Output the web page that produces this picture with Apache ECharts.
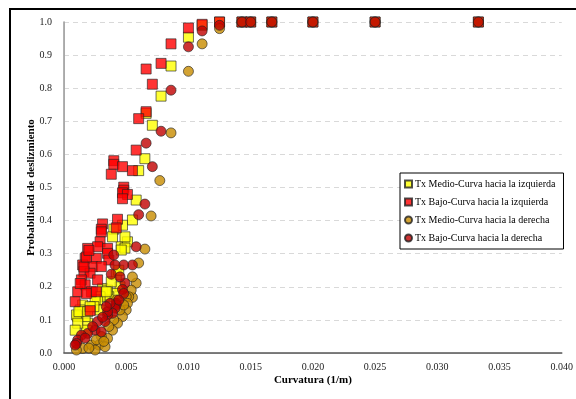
<!DOCTYPE html>
<html>
<head>
<meta charset="utf-8">
<script src="https://cdn.jsdelivr.net/npm/echarts@6/dist/echarts.min.js"></script>
<style>
  html, body { margin: 0; padding: 0; background: #fff; }
  #chart { width: 576px; height: 399px; }
</style>
</head>
<body>
<div id="chart"></div>
<script>
// Curvatura (1/m), Probabilidad de deslizamiento
const medioIzquierda = [
  [0.0100, 0.954], [0.0111, 0.990], [0.0125, 1.0], [0.0143, 1.0], [0.0150, 1.0], [0.0167, 1.0],
  [0.0200, 1.0], [0.0250, 1.0], [0.0333, 1.0], [0.0086, 0.867], [0.0078, 0.776], [0.0066, 0.724],
  [0.0071, 0.688], [0.0065, 0.587], [0.0060, 0.551], [0.0058, 0.462], [0.0055, 0.402], [0.0047, 0.386],
  [0.0040, 0.374], [0.0046, 0.321], [0.0051, 0.336], [0.0049, 0.351], [0.0039, 0.351], [0.0049, 0.317],
  [0.0046, 0.311], [0.0045, 0.200], [0.0042, 0.236], [0.0041, 0.180], [0.0036, 0.170], [0.0033, 0.175],
  [0.0031, 0.195], [0.0035, 0.190], [0.0038, 0.215], [0.0029, 0.170], [0.0027, 0.160], [0.0025, 0.160],
  [0.0029, 0.130], [0.0024, 0.140], [0.0019, 0.090], [0.0018, 0.069], [0.0017, 0.110], [0.0015, 0.145],
  [0.0013, 0.130], [0.0011, 0.110], [0.0010, 0.115], [0.0011, 0.090], [0.0009, 0.069], [0.0012, 0.125],
  [0.0019, 0.125], [0.0021, 0.140], [0.0034, 0.185], [0.0044, 0.250]
];
const bajoIzquierda = [
  [0.0100, 0.982], [0.0111, 0.993], [0.0125, 1.0], [0.0143, 1.0], [0.0150, 1.0], [0.0167, 1.0],
  [0.0200, 1.0], [0.0250, 1.0], [0.0333, 1.0], [0.0086, 0.934], [0.0078, 0.875], [0.0066, 0.858],
  [0.0071, 0.812], [0.0066, 0.729], [0.0060, 0.708], [0.0058, 0.613], [0.0040, 0.581], [0.0040, 0.570],
  [0.0038, 0.540], [0.0047, 0.563], [0.0055, 0.551], [0.0048, 0.501], [0.0048, 0.492], [0.0047, 0.484],
  [0.0051, 0.479], [0.0047, 0.466], [0.0043, 0.404], [0.0042, 0.378], [0.0031, 0.390], [0.0030, 0.374],
  [0.0030, 0.366], [0.0029, 0.336], [0.0035, 0.316], [0.0027, 0.321], [0.0019, 0.316], [0.0035, 0.301],
  [0.0017, 0.286], [0.0026, 0.286], [0.0036, 0.281], [0.0015, 0.266], [0.0023, 0.261], [0.0030, 0.261],
  [0.0016, 0.246], [0.0021, 0.241], [0.0027, 0.221], [0.0014, 0.221], [0.0017, 0.206], [0.0011, 0.185],
  [0.0022, 0.185], [0.0009, 0.155], [0.0021, 0.128], [0.0018, 0.180], [0.0026, 0.185], [0.0013, 0.210],
  [0.0016, 0.260], [0.0018, 0.290], [0.0020, 0.310]
];
const medioDerecha = [
  [0.0100, 0.851], [0.0111, 0.934], [0.0125, 0.980], [0.0143, 1.0], [0.0150, 1.0], [0.0167, 1.0],
  [0.0200, 1.0], [0.0250, 1.0], [0.0333, 1.0], [0.0086, 0.665], [0.0077, 0.521], [0.0070, 0.414],
  [0.0065, 0.314], [0.0060, 0.272], [0.0058, 0.211], [0.0055, 0.168], [0.0054, 0.190], [0.0052, 0.170],
  [0.0050, 0.170], [0.0051, 0.150], [0.0050, 0.130], [0.0047, 0.110], [0.0043, 0.090], [0.0039, 0.069],
  [0.0035, 0.044], [0.0028, 0.024], [0.0022, 0.024], [0.0015, 0.014], [0.0010, 0.009], [0.0025, 0.009],
  [0.0033, 0.019], [0.0045, 0.130], [0.0040, 0.100], [0.0036, 0.080], [0.0030, 0.050], [0.0026, 0.040],
  [0.0020, 0.015], [0.0042, 0.160], [0.0055, 0.230], [0.0048, 0.145], [0.0032, 0.035]
];
const bajoDerecha = [
  [0.0100, 0.925], [0.0111, 0.973], [0.0125, 0.990], [0.0143, 1.0], [0.0150, 1.0], [0.0167, 1.0],
  [0.0200, 1.0], [0.0250, 1.0], [0.0333, 1.0], [0.0086, 0.794], [0.0078, 0.670], [0.0066, 0.634],
  [0.0071, 0.563], [0.0065, 0.450], [0.0060, 0.418], [0.0058, 0.321], [0.0055, 0.266], [0.0048, 0.266],
  [0.0041, 0.266], [0.0040, 0.296], [0.0038, 0.238], [0.0049, 0.211], [0.0047, 0.192], [0.0048, 0.180],
  [0.0042, 0.150], [0.0042, 0.145], [0.0041, 0.135], [0.0039, 0.120], [0.0035, 0.115], [0.0033, 0.095],
  [0.0027, 0.095], [0.0025, 0.069], [0.0030, 0.064], [0.0019, 0.059], [0.0014, 0.054], [0.0011, 0.039],
  [0.0010, 0.029], [0.0009, 0.024], [0.0035, 0.125], [0.0031, 0.108], [0.0044, 0.160], [0.0037, 0.150],
  [0.0023, 0.080], [0.0017, 0.045], [0.0045, 0.230], [0.0034, 0.140]
];

const xTicks = { min: 0, max: 0.04, interval: 0.005 };
const yTicks = { min: 0, max: 1, interval: 0.1 };

const font = '"Liberation Serif", "Times New Roman", serif';
const chart = echarts.init(document.getElementById('chart'));

const makeSeries = (name, data, symbol, color) => ({
  name,
  type: 'scatter',
  data,
  symbol,
  symbolSize: 10,
  itemStyle: { color, borderColor: '#222', borderWidth: 0.8 },
  emphasis: { disabled: true }
});

chart.setOption({
  animation: false,
  backgroundColor: '#fff',
  textStyle: { fontFamily: font },
  graphic: [{
    type: 'rect',
    shape: { x: 10, y: 9, width: 620, height: 430 },
    style: { fill: 'none', stroke: '#000', lineWidth: 2 },
    silent: true
  }],
  grid: { left: 64, right: 13, top: 22, bottom: 46 },
  legend: {
    orient: 'vertical',
    left: 400,
    top: 173,
    itemWidth: 7,
    itemHeight: 7,
    itemGap: 8,
    padding: [6, 8, 6, 4],
    backgroundColor: '#fff',
    borderColor: '#000',
    borderWidth: 1,
    textStyle: { fontFamily: font, fontSize: 10, color: '#000', padding: [0, 0, 0, -2] },
    data: [
      { name: 'Tx Medio-Curva hacia la izquierda', icon: 'rect' },
      { name: 'Tx Bajo-Curva hacia la izquierda', icon: 'rect' },
      { name: 'Tx Medio-Curva hacia la derecha', icon: 'circle' },
      { name: 'Tx Bajo-Curva hacia la derecha', icon: 'circle' }
    ]
  },
  xAxis: [{
    type: 'value',
    min: xTicks.min,
    max: xTicks.max,
    interval: xTicks.interval,
    name: 'Curvatura (1/m)',
    nameLocation: 'middle',
    nameGap: 22,
    nameMoveOverlap: false,
    nameTextStyle: { fontFamily: font, fontSize: 11, fontWeight: 'bold', color: '#000' },
    axisLine: { show: true, lineStyle: { color: '#d9d9d9', width: 1 } },
    axisTick: { show: false },
    splitLine: { show: false },
    axisLabel: { fontFamily: font, fontSize: 10, color: '#222', margin: 9, formatter: v => v.toFixed(3) }
  }, {
    type: 'value',
    position: 'top',
    min: xTicks.min,
    max: xTicks.max,
    axisLine: { show: true, lineStyle: { color: '#555', width: 1.5 } },
    axisTick: { show: false },
    axisLabel: { show: false },
    splitLine: { show: false }
  }],
  yAxis: [{
    type: 'value',
    min: yTicks.min,
    max: yTicks.max,
    interval: yTicks.interval,
    name: 'Probabilidad de deslizmiento',
    nameLocation: 'middle',
    nameGap: 27,
    nameMoveOverlap: false,
    nameTextStyle: { fontFamily: font, fontSize: 11, fontWeight: 'bold', color: '#000' },
    axisLine: { show: true, lineStyle: { color: '#d9d9d9', width: 1 } },
    axisTick: { show: false },
    splitLine: { show: true, lineStyle: { color: '#d9d9d9', type: [5, 4], width: 1 } },
    axisLabel: { fontFamily: font, fontSize: 10, color: '#222', margin: 12, formatter: v => v.toFixed(1) }
  }, {
    type: 'value',
    position: 'right',
    min: yTicks.min,
    max: yTicks.max,
    axisLine: { show: true, lineStyle: { color: '#999', width: 1.5 } },
    axisTick: { show: false },
    axisLabel: { show: false },
    splitLine: { show: false }
  }],
  series: [
    makeSeries('Tx Medio-Curva hacia la izquierda', medioIzquierda, 'rect', '#ffff00'),
    makeSeries('Tx Bajo-Curva hacia la izquierda', bajoIzquierda, 'rect', '#ff0000'),
    makeSeries('Tx Medio-Curva hacia la derecha', medioDerecha, 'circle', '#c88c00'),
    makeSeries('Tx Bajo-Curva hacia la derecha', bajoDerecha, 'circle', '#c00000')
  ]
});
</script>
</body>
</html>
